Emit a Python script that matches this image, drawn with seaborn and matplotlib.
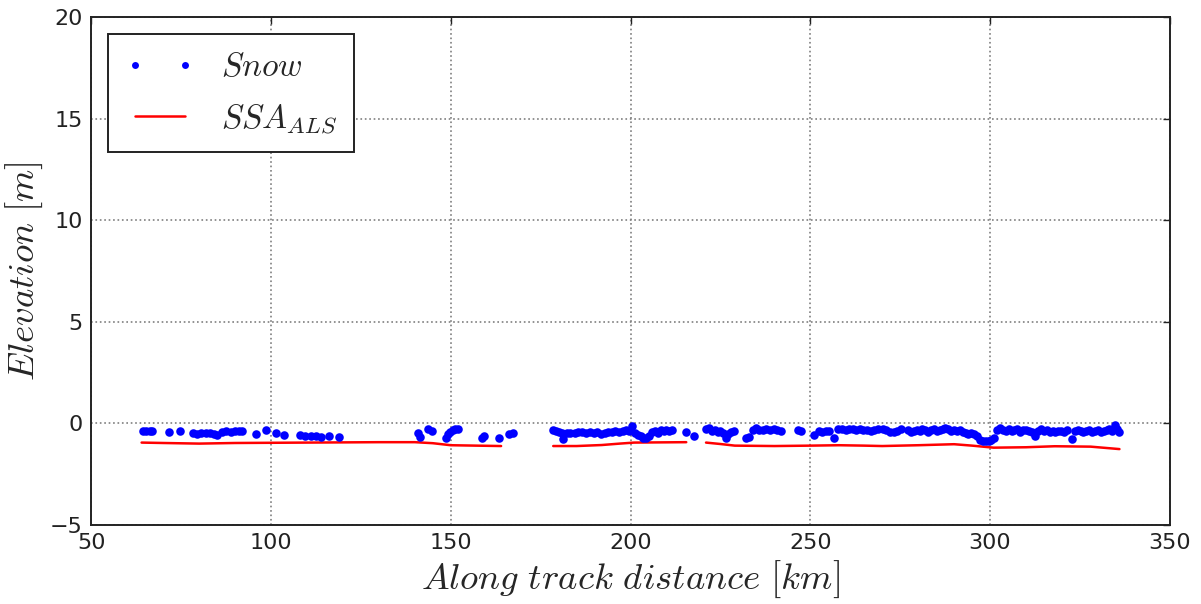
import numpy as np
import pandas as pd
import matplotlib
matplotlib.use("Agg")
import matplotlib.pyplot as plt
import seaborn as sns
from matplotlib.lines import Line2D

# ---------------- data ----------------
snow_km = [
    64.5, 65.3, 66.2, 67.0, 71.7, 74.8, 78.2, 79.3, 80.5, 81.8, 83.0, 84.2, 85.0,
    86.5, 87.6, 88.8, 90.0, 91.2, 92.0, 95.7, 98.5, 101.3, 103.5, 108.0, 109.5,
    111.0, 112.5, 114.0, 116.0, 118.8,
    140.8, 141.5, 143.6, 144.8, 148.6, 149.2, 149.8, 150.5, 151.2, 152.0, 158.6,
    159.3, 163.4, 166.2, 167.4,
    178.5, 179.3, 180.0, 180.8, 181.3, 182.2, 183.3, 184.5, 185.5, 186.6, 187.7,
    188.8, 189.8, 190.8, 191.8, 192.8, 193.8, 194.8, 195.8, 196.8, 197.8, 198.8,
    199.7, 200.5, 201.3, 202.0, 202.8, 203.6, 204.4, 205.2, 206.0, 206.8, 207.6,
    208.4, 209.2, 210.0, 210.8, 211.6, 215.5, 217.7,
    221.0, 221.8, 222.6, 223.4, 224.2, 225.0, 225.8, 226.5, 227.2, 228.0, 228.8,
    232.0, 233.0, 234.2, 235.0, 235.8, 236.8, 237.8, 238.8, 239.8, 240.8, 241.8,
    246.7, 247.5, 251.0, 252.3, 253.3, 254.3, 255.3, 256.7, 257.8, 258.8, 259.8,
    260.8, 261.8, 262.8, 263.8, 264.8, 265.8, 266.8, 267.8, 268.8, 270.2, 271.2,
    272.2, 273.2, 274.2, 275.2, 277.2, 278.0, 278.8, 279.6, 280.4, 281.2, 282.0,
    282.8, 283.6, 284.4, 285.2, 286.0, 286.8, 287.6, 288.4, 289.2, 290.0, 290.8,
    291.6, 292.4, 293.2, 294.0, 294.8, 295.6, 296.4, 297.2, 298.0, 298.8, 299.6,
    300.4, 301.2, 302.0, 302.8, 303.6, 304.4, 305.2, 306.0, 306.8, 307.6, 308.4,
    309.2, 310.0, 310.8, 311.6, 312.4, 313.4, 314.2, 315.0, 315.8, 316.6, 317.4,
    318.2, 319.0, 319.8, 320.6, 321.4, 322.7, 323.6, 324.4, 325.2, 326.0, 326.8,
    327.6, 328.4, 329.2, 330.0, 330.8, 331.6, 332.4, 333.2, 334.0, 334.7, 335.3,
    335.8,
]
snow_elev = [
    -0.38, -0.40, -0.37, -0.39, -0.44, -0.36, -0.48, -0.55, -0.50, -0.46, -0.50, -0.55, -0.60,
    -0.42, -0.40, -0.42, -0.40, -0.38, -0.36, -0.54, -0.33, -0.50, -0.60, -0.58, -0.62,
    -0.64, -0.63, -0.66, -0.65, -0.68,
    -0.50, -0.68, -0.28, -0.40, -0.70, -0.55, -0.42, -0.35, -0.30, -0.28, -0.72,
    -0.62, -0.72, -0.55, -0.48,
    -0.35, -0.40, -0.45, -0.50, -0.75, -0.48, -0.50, -0.47, -0.45, -0.44, -0.48,
    -0.42, -0.50, -0.45, -0.55, -0.48, -0.44, -0.42, -0.40, -0.44, -0.38, -0.35,
    -0.40, -0.15, -0.50, -0.60, -0.65, -0.72, -0.70, -0.62, -0.45, -0.38, -0.48,
    -0.35, -0.40, -0.32, -0.38, -0.33, -0.43, -0.62,
    -0.30, -0.25, -0.38, -0.35, -0.42, -0.40, -0.48, -0.72, -0.55, -0.45, -0.38,
    -0.70, -0.68, -0.35, -0.25, -0.32, -0.35, -0.30, -0.32, -0.28, -0.35, -0.40,
    -0.32, -0.40, -0.60, -0.40, -0.42, -0.38, -0.36, -0.72, -0.30, -0.28, -0.33,
    -0.30, -0.28, -0.33, -0.30, -0.35, -0.33, -0.38, -0.35, -0.30, -0.28, -0.35,
    -0.42, -0.45, -0.38, -0.30, -0.35, -0.45, -0.40, -0.33, -0.38, -0.30, -0.35,
    -0.42, -0.35, -0.30, -0.38, -0.32, -0.28, -0.22, -0.30, -0.38, -0.32, -0.40,
    -0.35, -0.45, -0.50, -0.55, -0.48, -0.55, -0.62, -0.80, -0.85, -0.88, -0.86,
    -0.82, -0.70, -0.35, -0.25, -0.32, -0.38, -0.30, -0.40, -0.35, -0.30, -0.42,
    -0.35, -0.32, -0.40, -0.45, -0.62, -0.38, -0.30, -0.40, -0.35, -0.42, -0.38,
    -0.45, -0.40, -0.36, -0.42, -0.35, -0.75, -0.40, -0.32, -0.38, -0.45, -0.40,
    -0.35, -0.42, -0.38, -0.32, -0.45, -0.40, -0.35, -0.30, -0.38, -0.08, -0.30,
    -0.42,
]

ssa_km = [64, 70, 80, 90, 100, 110, 120, 130, 140, 145, 150, 157, 164,
          178.5, 185, 192, 197, 201, 208, 215.5,
          221, 225, 229, 240, 250, 258, 265, 270, 280, 290, 295, 301, 310, 318, 328, 336]
ssa_elev = [-0.95, -0.97, -1.00, -0.97, -0.96, -0.95, -0.94, -0.93, -0.93, -0.98, -1.08, -1.10, -1.12,
            -1.12, -1.12, -1.07, -1.00, -0.95, -0.94, -0.93,
            -0.95, -1.02, -1.10, -1.12, -1.10, -1.08, -1.10, -1.12, -1.08, -1.03, -1.10, -1.20, -1.18, -1.13, -1.15, -1.27]
ssa_segment = [0] * 13 + [1] * 7 + [2] * 16

x_ticks = [50, 100, 150, 200, 250, 300, 350]
y_ticks = [-5, 0, 5, 10, 15, 20]

# ---------------- plotting ----------------
sns.set_style("white")
plt.rcParams["font.family"] = ["DejaVu Sans"]
plt.rcParams["mathtext.fontset"] = "cm"

snow_df = pd.DataFrame({"km": snow_km, "elev": snow_elev})
ssa_df = pd.DataFrame({"km": ssa_km, "elev": ssa_elev, "seg": ssa_segment})

fig = plt.figure(figsize=(12.01, 6.04), dpi=100)
ax = fig.add_axes([0.076, 0.131, 0.898, 0.841])

sns.lineplot(data=ssa_df, x="km", y="elev", units="seg", estimator=None,
             color="#ff0000", linewidth=1.8, ax=ax, sort=False, legend=False)
sns.scatterplot(data=snow_df, x="km", y="elev", color="#0000ff", s=38,
                linewidth=0, ax=ax, legend=False, zorder=3)

ax.set_xlim(50, 350)
ax.set_ylim(-5, 20)
ax.set_xticks(x_ticks)
ax.set_yticks(y_ticks)
ax.grid(True, linestyle=":", color="#7f7f7f", linewidth=1.2)
for sp in ax.spines.values():
    sp.set_visible(True)
    sp.set_color("#222222")
    sp.set_linewidth(1.4)
ax.tick_params(direction="in", top=True, right=True, length=5, width=1,
               labelsize=16, pad=6, colors="#222222")

ax.set_xlabel(r"$Along\ track\ distance\ [km]$", fontsize=26.5, labelpad=4)
ax.set_ylabel(r"$Elevation\ [m]$", fontsize=26.5, labelpad=4)

handles = [
    Line2D([0], [0], marker="o", color="#0000ff", linestyle="none", markersize=5,
           markeredgewidth=0),
    Line2D([0], [0], color="#ff0000", linewidth=1.8),
]
leg = ax.legend(handles, [r"$Snow$", r"$SSA_{ALS}$"], loc="upper left",
                fontsize=24, numpoints=2, handlelength=2.1, fancybox=False,
                framealpha=1, edgecolor="#222222", borderaxespad=0.5,
                handletextpad=0.8, borderpad=0.5, labelspacing=0.55)
leg.get_frame().set_linewidth(1.4)

fig.savefig("out.png", dpi=100)
